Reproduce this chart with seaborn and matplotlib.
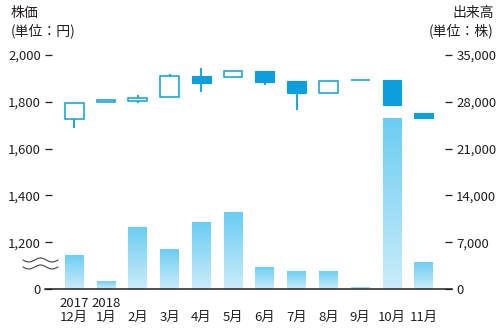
import numpy as np
import pandas as pd
import matplotlib
matplotlib.use("Agg")
import matplotlib.pyplot as plt
import seaborn as sns
from matplotlib.colors import LinearSegmentedColormap
from matplotlib.lines import Line2D

# Monthly data, Dec 2017 - Nov 2018
months = ["12月", "1月", "2月", "3月", "4月", "5月", "6月", "7月", "8月", "9月", "10月", "11月"]
years = ["2017", "2018", "", "", "", "", "", "", "", "", "", ""]
price_open = [1726, 1798, 1804, 1821, 1910, 1905, 1932, 1889, 1839, 1892, 1893, 1750]
price_high = [1797, 1806, 1828, 1918, 1944, 1932, 1932, 1889, 1889, 1892, 1893, 1750]
price_low = [1686, 1798, 1796, 1821, 1840, 1905, 1870, 1767, 1839, 1892, 1787, 1729]
price_close = [1797, 1806, 1815, 1909, 1881, 1932, 1886, 1839, 1889, 1892, 1787, 1729]
volume = [5100, 1200, 9300, 6000, 10000, 11500, 3300, 2750, 2750, 300, 25600, 4100]

price_ticks = [1000, 1200, 1400, 1600, 1800, 2000]
price_tick_labels = ["0", "1,200", "1,400", "1,600", "1,800", "2,000"]
volume_ticks = [0, 7000, 14000, 21000, 28000, 35000]
volume_tick_labels = ["0", "7,000", "14,000", "21,000", "28,000", "35,000"]

sns.set_theme(style="white")
plt.rcParams["font.family"] = ["Noto Sans CJK JP", "DejaVu Sans"]

CANDLE = "#0c9fdb"
TEXT = "#231f20"
W, H = 500, 331

fig = plt.figure(figsize=(5, 3.31), dpi=100)
fig.patch.set_facecolor("white")
ax = fig.add_axes([45 / W, 42 / H, (452 - 45) / W, (289 - 55) / H])
ax2 = ax.twinx()

# Volume bars with a vertical gradient fill
df = pd.DataFrame({"month": months, "volume": volume})
sns.barplot(data=df, x="month", y="volume", ax=ax2, width=0.59, color=CANDLE)
cmap = LinearSegmentedColormap.from_list("vol", ["#cbecfa", "#6acdf3"])
grad = np.linspace(0, 1, 256).reshape(-1, 1)
for p in list(ax2.patches):
    x0, y0 = p.get_x(), p.get_y()
    w, h = p.get_width(), p.get_height()
    p.set_facecolor("none")
    p.set_edgecolor("none")
    im = ax2.imshow(grad, extent=[x0, x0 + w, y0, y0 + h], origin="lower",
                    aspect="auto", cmap=cmap, zorder=1)
    im.set_clip_path(p)
ax2.set_xlabel("")
ax2.set_ylabel("")
ax2.set_ylim(0, 35000)
ax2.set_yticks(volume_ticks)
ax2.set_yticklabels(volume_tick_labels)

# Candlesticks
x = np.arange(len(months))
o = np.array(price_open)
c = np.array(price_close)
up = c >= o
ax.vlines(x, price_low, price_high, color=CANDLE, linewidth=1.3, zorder=2)
body_bottom = np.minimum(o, c)
body_height = np.abs(c - o)
ax.bar(x[up], body_height[up], bottom=body_bottom[up], width=0.59,
       facecolor="white", edgecolor=CANDLE, linewidth=1.1, zorder=3)
ax.bar(x[~up], body_height[~up], bottom=body_bottom[~up], width=0.59,
       facecolor=CANDLE, edgecolor=CANDLE, linewidth=0.8, zorder=3)

ax.set_ylim(1000, 2000)
ax.set_yticks(price_ticks)
ax.set_yticklabels(price_tick_labels)
ax.set_xlim(-0.92, 11.89)
ax.set_xticks(x)
ax.set_xticklabels([f"{yy}\n{m}" for yy, m in zip(years, months)])

ax.set_zorder(ax2.get_zorder() + 1)
ax.patch.set_visible(False)

for a in (ax, ax2):
    for s in a.spines.values():
        s.set_visible(False)
ax.spines["bottom"].set_visible(True)
ax.spines["bottom"].set_color(TEXT)
ax.spines["bottom"].set_linewidth(1.1)

ax.tick_params(axis="y", direction="in", length=5, width=0.9, color=TEXT,
               labelsize=9.5, labelcolor=TEXT, pad=3, left=True)
ax2.tick_params(axis="y", direction="in", length=5, width=0.9, color=TEXT,
                labelsize=9.5, labelcolor=TEXT, pad=3, right=True)
ax.tick_params(axis="x", length=0, labelsize=9.5, labelcolor=TEXT, pad=6)
for lbl in ax.get_xticklabels():
    lbl.set_linespacing(1.1)

# Axis titles
fig.text(11 / W, 1 - 6 / H, "株価\n(単位：円)", ha="left", va="top",
         fontsize=10, color=TEXT, linespacing=1.25)
fig.text(494 / W, 1 - 6 / H, "出来高\n(単位：株)", ha="right", va="top",
         fontsize=10, color=TEXT, linespacing=1.25)

# Axis break mark on the price axis
xs = np.linspace(23, 58, 60)
for yc in (260, 267):
    ys = yc + 2.0 * np.sin((xs - 23) / 35 * 3 * np.pi)
    fig.add_artist(Line2D(xs / W, 1 - ys / H, color="#444444", linewidth=0.8))

fig.savefig("out.png", dpi=100, facecolor="white")
